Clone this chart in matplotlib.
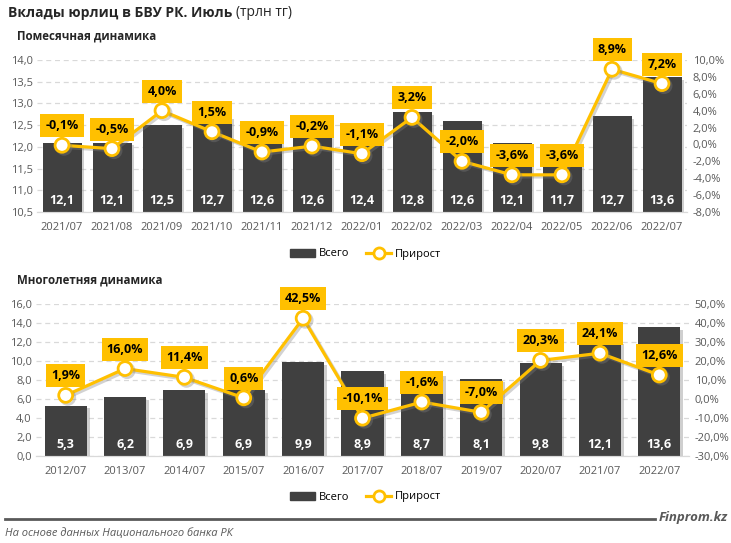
import numpy as np
import matplotlib
matplotlib.use('Agg')
from matplotlib import pyplot as plt
from matplotlib.patches import Patch
from matplotlib.lines import Line2D
import matplotlib.patheffects as pe

plt.rcParams['font.family'] = ['Open Sans', 'DejaVu Sans']

# monthly data
months = ['2021/07', '2021/08', '2021/09', '2021/10', '2021/11', '2021/12', '2022/01',
          '2022/02', '2022/03', '2022/04', '2022/05', '2022/06', '2022/07']
months_total = [12.1, 12.1, 12.5, 12.7, 12.6, 12.6, 12.4, 12.8, 12.6, 12.1, 11.7, 12.7, 13.6]
months_growth = [-0.1, -0.5, 4.0, 1.5, -0.9, -0.2, -1.1, 3.2, -2.0, -3.6, -3.6, 8.9, 7.2]

# yearly data
years = ['2012/07', '2013/07', '2014/07', '2015/07', '2016/07', '2017/07',
         '2018/07', '2019/07', '2020/07', '2021/07', '2022/07']
years_total = [5.3, 6.2, 6.9, 6.9, 9.9, 8.9, 8.7, 8.1, 9.8, 12.1, 13.6]
years_growth = [1.9, 16.0, 11.4, 0.6, 42.5, -10.1, -1.6, -7.0, 20.3, 24.1, 12.6]

BAR = '#404040'
GOLD = '#FFC000'
GREY = '#595959'

W, H = 731, 543
fig = plt.figure(figsize=(W / 100, H / 100), dpi=100)


def box(x0, y0, x1, y1):
    # pixel box (from top-left) -> figure rect
    return [x0 / W, 1 - y1 / H, (x1 - x0) / W, (y1 - y0) / H]


def comma(v, fmt):
    return format(v, fmt).replace('.', ',')


def panel(rect, cats, totals, growth, ylim, ystep, y2lim, y2step, width):
    ax = fig.add_axes(rect)
    ax2 = ax.twinx()
    x = np.arange(len(cats))
    shadow = [pe.SimplePatchShadow(offset=(2, -2), shadow_rgbFace='#a0a0a0', alpha=0.5), pe.Normal()]
    ax.bar(x, totals, width, color=BAR, zorder=2, path_effects=shadow)
    ax.set_xlim(-0.5, len(cats) - 0.5)
    ax.set_ylim(ylim)
    ax.set_yticks(np.arange(ylim[0], ylim[1] + 1e-9, ystep))
    ax.set_yticklabels([comma(v, '.1f') for v in ax.get_yticks()])
    ax.set_xticks(x)
    ax.set_xticklabels(cats)
    ax.yaxis.grid(True, ls=(0, (4, 3)), color='#d9d9d9', lw=0.9, zorder=0)
    ax.set_axisbelow(True)
    for a in (ax, ax2):
        for s in ('top', 'left', 'right'):
            a.spines[s].set_visible(False)
        a.spines['bottom'].set_color('#d9d9d9')
        a.tick_params(length=0, labelsize=8, labelcolor=GREY)
    ax.tick_params(axis='x', pad=7)
    ax.tick_params(axis='y', pad=3)
    ax2.tick_params(axis='y', pad=4)
    for xi, v in zip(x, totals):
        ax.annotate(comma(v, '.1f'), (xi, ylim[0]), xytext=(0, 8), textcoords='offset points',
                    ha='center', va='center', color='white', fontweight='bold', fontsize=9, zorder=5)

    line_shadow = [pe.SimpleLineShadow(offset=(1.5, -1.5), shadow_color='#808080', alpha=0.35), pe.Normal()]
    ax2.plot(x, growth, color=GOLD, lw=2.3, marker='o', ms=10, mfc='white', mec=GOLD, mew=2,
             zorder=3, path_effects=line_shadow)
    ax2.set_ylim(y2lim)
    ax2.set_yticks(np.arange(y2lim[0], y2lim[1] + 1e-9, y2step))
    ax2.set_yticklabels([comma(v, '.1f') + '%' for v in ax2.get_yticks()])
    for xi, g in zip(x, growth):
        ax2.annotate(comma(g, '.1f') + '%', (xi, g), xytext=(0, 14), textcoords='offset points',
                     ha='center', va='center', fontweight='bold', fontsize=9, color='black',
                     bbox=dict(boxstyle='square,pad=0.4', fc=GOLD, ec='none'), zorder=6)
    return ax, ax2


panel(box(37, 60, 687, 212), months, months_total, months_growth,
      (10.5, 14.0), 0.5, (-8, 10), 2, 0.78)
panel(box(36, 304, 689, 456), years, years_total, years_growth,
      (0, 16), 2, (-30, 50), 10, 0.71)

# titles
fig.canvas.draw()
r = fig.canvas.get_renderer()
t = fig.text(8 / W, 1 - 13 / H, 'Вклады юрлиц в БВУ РК. Июль', fontsize=10, fontweight='bold',
             va='center', color='#262626')
bb = t.get_window_extent(renderer=r)
fig.text((bb.x1 + 4) / W, 1 - 13 / H, '(трлн тг)', fontsize=10, va='center', color='#262626')
fig.text(17 / W, 1 - 36 / H, 'Помесячная динамика', fontsize=8.3, fontweight='bold', va='center',
         color='#262626')
fig.text(17 / W, 1 - 280 / H, 'Многолетняя динамика', fontsize=8.3, fontweight='bold', va='center',
         color='#262626')

# legends
handles = [Patch(color=BAR, label='Всего'),
           Line2D([0], [0], color=GOLD, lw=2.3, marker='o', ms=8, mfc='white', mec=GOLD, mew=2,
                  label='Прирост')]
for ly in (254, 497):
    fig.legend(handles=handles, loc='center', bbox_to_anchor=(366 / W, 1 - ly / H), ncol=2,
               frameon=False, fontsize=8, handlelength=2.2, columnspacing=1.5,
               handletextpad=0.4)

# footer
fig.add_artist(Line2D([5 / W, 655 / W], [1 - 519 / H] * 2, color=GREY, lw=2))
fig.text(659 / W, 1 - 517 / H, 'Finprom.kz', fontsize=9.5, fontweight='bold', style='italic',
         ha='left', va='center', color=GREY)
fig.text(5 / W, 1 - 533 / H, 'На основе данных Национального банка РК', fontsize=8,
         style='italic', va='center', color=GREY)

fig.savefig('out.png', dpi=100)
